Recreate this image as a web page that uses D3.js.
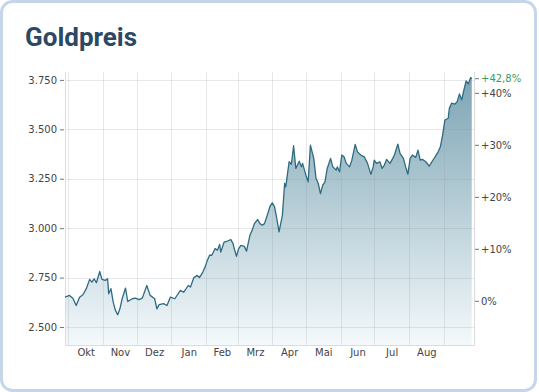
<!DOCTYPE html>
<html>
<head>
<meta charset="utf-8">
<script src="https://cdn.jsdelivr.net/npm/d3@7"></script>
<style>
  body { margin: 0; background: #fff; }
  svg { display: block; }
  .axis text { font-family: 'DejaVu Sans', Verdana, sans-serif; font-size: 10px; fill: #444; }
</style>
</head>
<body>
<div id="chart"></div>
<script>
// Goldpreis, 1 Jahr (USD je Unze)
const dates = [
  '2024-09-28','2024-10-02','2024-10-05','2024-10-08','2024-10-11','2024-10-14','2024-10-17','2024-10-20',
  '2024-10-22','2024-10-24','2024-10-26','2024-10-29','2024-10-31','2024-11-03','2024-11-05','2024-11-06',
  '2024-11-08','2024-11-10','2024-11-12','2024-11-14','2024-11-16','2024-11-18','2024-11-21','2024-11-23',
  '2024-11-27','2024-11-30','2024-12-03','2024-12-06','2024-12-10','2024-12-13','2024-12-17','2024-12-19',
  '2024-12-21','2024-12-25','2024-12-28','2024-12-31','2025-01-04','2025-01-09','2025-01-12','2025-01-16',
  '2025-01-18','2025-01-21','2025-01-24','2025-01-26','2025-01-29','2025-01-31','2025-02-02','2025-02-04',
  '2025-02-06','2025-02-09','2025-02-11','2025-02-13','2025-02-14','2025-02-17','2025-02-20','2025-02-23',
  '2025-02-25','2025-02-26','2025-02-28','2025-03-02','2025-03-04','2025-03-07','2025-03-09','2025-03-12',
  '2025-03-14','2025-03-16','2025-03-19','2025-03-21','2025-03-23','2025-03-25','2025-03-28','2025-03-30',
  '2025-04-01','2025-04-03','2025-04-05','2025-04-07','2025-04-10','2025-04-12','2025-04-13','2025-04-16',
  '2025-04-18','2025-04-20','2025-04-22','2025-04-25','2025-04-27','2025-04-28','2025-05-01','2025-05-03',
  '2025-05-05','2025-05-08','2025-05-10','2025-05-12','2025-05-14','2025-05-16','2025-05-18','2025-05-20',
  '2025-05-23','2025-05-25','2025-05-28','2025-05-29','2025-05-31','2025-06-02','2025-06-04','2025-06-06',
  '2025-06-09','2025-06-11','2025-06-14','2025-06-16','2025-06-19','2025-06-22','2025-06-25','2025-06-28',
  '2025-06-30','2025-07-01','2025-07-03','2025-07-06','2025-07-08','2025-07-10','2025-07-12','2025-07-15',
  '2025-07-17','2025-07-19','2025-07-22','2025-07-24','2025-07-27','2025-07-29','2025-07-31','2025-08-02',
  '2025-08-04','2025-08-07','2025-08-09','2025-08-11','2025-08-13','2025-08-16','2025-08-19','2025-08-22',
  '2025-08-24','2025-08-27','2025-08-29','2025-08-31','2025-09-02','2025-09-05','2025-09-06','2025-09-08',
  '2025-09-11','2025-09-13','2025-09-15','2025-09-17','2025-09-19','2025-09-21','2025-09-23','2025-09-25',
  '2025-09-26'
];
const prices = [
  2651, 2660, 2646, 2609, 2651, 2663, 2694, 2741,
  2727, 2744, 2724, 2781, 2741, 2736, 2744, 2668,
  2694, 2626, 2584, 2562, 2592, 2643, 2697, 2629,
  2643, 2646, 2639, 2646, 2710, 2660, 2643, 2592,
  2613, 2618, 2609, 2651, 2643, 2685, 2676, 2710,
  2702, 2750, 2761, 2750, 2778, 2803, 2837, 2863,
  2863, 2897, 2888, 2918, 2879, 2930, 2935, 2942,
  2922, 2897, 2858, 2897, 2913, 2908, 2884, 2964,
  2989, 3023, 3044, 3023, 3015, 3023, 3074, 3111,
  3128, 3108, 3049, 2981, 3065, 3226, 3209, 3336,
  3323, 3417, 3302, 3339, 3310, 3328, 3268, 3234,
  3420, 3353, 3252, 3226, 3175, 3218, 3234, 3302,
  3353, 3310, 3294, 3310, 3285, 3370, 3361, 3328,
  3310, 3344, 3424, 3386, 3370, 3361, 3328, 3272,
  3310, 3344, 3328, 3336, 3302, 3319, 3348, 3328,
  3348, 3370, 3425, 3378, 3353, 3310, 3273, 3353,
  3370, 3358, 3395, 3344, 3348, 3336, 3314, 3341,
  3358, 3386, 3412, 3471, 3547, 3556, 3606, 3632,
  3628, 3640, 3679, 3649, 3699, 3745, 3730, 3762,
  3756
];
const basePrice = 2630;   // Bezugskurs für die Prozentachse
const priceTicks = [2500, 2750, 3000, 3250, 3500, 3750];
const pctTicks = [0, 10, 20, 30, 40];
const monthLabels = ['Okt', 'Nov', 'Dez', 'Jan', 'Feb', 'Mrz', 'Apr', 'Mai', 'Jun', 'Jul', 'Aug'];

const W = 539, H = 392;
const margin = { left: 65, top: 72, right: 65, bottom: 47 };
const width = W - margin.left - margin.right;
const height = H - margin.top - margin.bottom;

const de = d3.formatLocale({ decimal: ',', thousands: '.', grouping: [3], currency: ['', ' €'] });
const parse = d3.timeParse('%Y-%m-%d');

const data = dates.map(function (d, i) {
  return { date: parse(d), price: prices[i] };
});

const svg = d3.select('#chart').append('svg')
  .attr('width', W)
  .attr('height', H);

// card
svg.append('rect')
  .attr('x', 1.5).attr('y', 1.5)
  .attr('width', 534).attr('height', 389)
  .attr('rx', 11)
  .attr('fill', '#fff')
  .attr('stroke', '#c5d6ea')
  .attr('stroke-width', 3);

svg.append('text')
  .attr('x', 25).attr('y', 46)
  .attr('font-family', 'Roboto, sans-serif')
  .attr('font-weight', 700)
  .attr('font-size', '26px')
  .attr('fill', '#2d4864')
  .text('Goldpreis');

const g = svg.append('g')
  .attr('transform', 'translate(' + margin.left + ',' + margin.top + ')');

// scales
const x = d3.scaleTime()
  .domain([parse('2024-09-28'), parse('2025-09-28')])
  .range([0, width]);

const y = d3.scaleLinear()
  .domain([2409, 3790])
  .range([height, 0]);

// gradient for area
const grad = svg.append('defs').append('linearGradient')
  .attr('id', 'fillGrad')
  .attr('gradientUnits', 'userSpaceOnUse')
  .attr('x1', 0).attr('x2', 0)
  .attr('y1', 0).attr('y2', height);
grad.append('stop').attr('offset', '0%').attr('stop-color', '#7ba3b3');
grad.append('stop').attr('offset', '100%').attr('stop-color', '#f4f9fb');

const area = d3.area()
  .x(function (d) { return x(d.date); })
  .y0(height)
  .y1(function (d) { return y(d.price); });

g.append('path')
  .datum(data)
  .attr('d', area)
  .attr('fill', 'url(#fillGrad)');

// grid
const months = d3.timeMonth.range(parse('2024-10-01'), parse('2025-09-02'));
g.append('g').selectAll('line')
  .data(months)
  .enter().append('line')
  .attr('x1', function (d) { return Math.round(x(d)) + 0.5; })
  .attr('x2', function (d) { return Math.round(x(d)) + 0.5; })
  .attr('y1', 0).attr('y2', height)
  .attr('stroke', 'rgba(140,155,165,0.22)');

g.append('g').selectAll('line')
  .data(priceTicks)
  .enter().append('line')
  .attr('x1', 0).attr('x2', width)
  .attr('y1', function (d) { return Math.round(y(d)) + 0.5; })
  .attr('y2', function (d) { return Math.round(y(d)) + 0.5; })
  .attr('stroke', 'rgba(140,155,165,0.22)');

// frame
g.append('path')
  .attr('d', 'M0.5,0V' + (height + 0.5) + 'H' + (width + 0.5) + 'V0')
  .attr('fill', 'none')
  .attr('stroke', '#dcdcdc');

// line
const line = d3.line()
  .x(function (d) { return x(d.date); })
  .y(function (d) { return y(d.price); });

g.append('path')
  .datum(data)
  .attr('d', line)
  .attr('fill', 'none')
  .attr('stroke', '#2e6b81')
  .attr('stroke-width', 1.3)
  .attr('stroke-linejoin', 'round');

// left axis
const yAxis = d3.axisLeft(y)
  .tickValues(priceTicks)
  .tickSize(4)
  .tickPadding(3)
  .tickFormat(de.format(','));
g.append('g')
  .attr('class', 'axis')
  .attr('transform', 'translate(-1,0)')
  .call(yAxis)
  .call(function (s) { s.select('.domain').remove(); })
  .call(function (s) { s.selectAll('line').attr('stroke', '#777'); });

// right axis (percent vs. basePrice)
const last = prices[prices.length - 1];
const lastPct = (last / basePrice - 1) * 100;
const pctY = function (p) { return y(basePrice * (1 + p / 100)); };

const rAxis = g.append('g')
  .attr('class', 'axis')
  .attr('transform', 'translate(' + (width + 1) + ',0)');

const rTicks = rAxis.selectAll('g')
  .data(pctTicks.concat([lastPct]))
  .enter().append('g')
  .attr('transform', function (d) { return 'translate(0,' + pctY(d) + ')'; });
rTicks.append('line')
  .attr('x1', 0).attr('x2', 4)
  .attr('stroke', '#777');
rTicks.append('text')
  .attr('x', 6)
  .attr('dy', '0.32em')
  .style('fill', function (d, i) { return i === pctTicks.length ? '#3c9a5c' : '#444'; })
  .text(function (d, i) {
    if (i === pctTicks.length) return de.format('+.1f')(d) + '%';
    return d === 0 ? '0%' : '+' + d + '%';
  });

// month axis, labels in month middle
const mids = months.slice(0, monthLabels.length).map(function (m) {
  return new Date((+m + +d3.timeMonth.offset(m, 1)) / 2);
});
const xAxis = d3.axisBottom(x)
  .tickValues(mids)
  .tickSize(0)
  .tickPadding(4)
  .tickFormat(function (d, i) { return monthLabels[i]; });
g.append('g')
  .attr('class', 'axis')
  .attr('transform', 'translate(0,' + height + ')')
  .call(xAxis)
  .call(function (s) { s.select('.domain').remove(); });
</script>
</body>
</html>
